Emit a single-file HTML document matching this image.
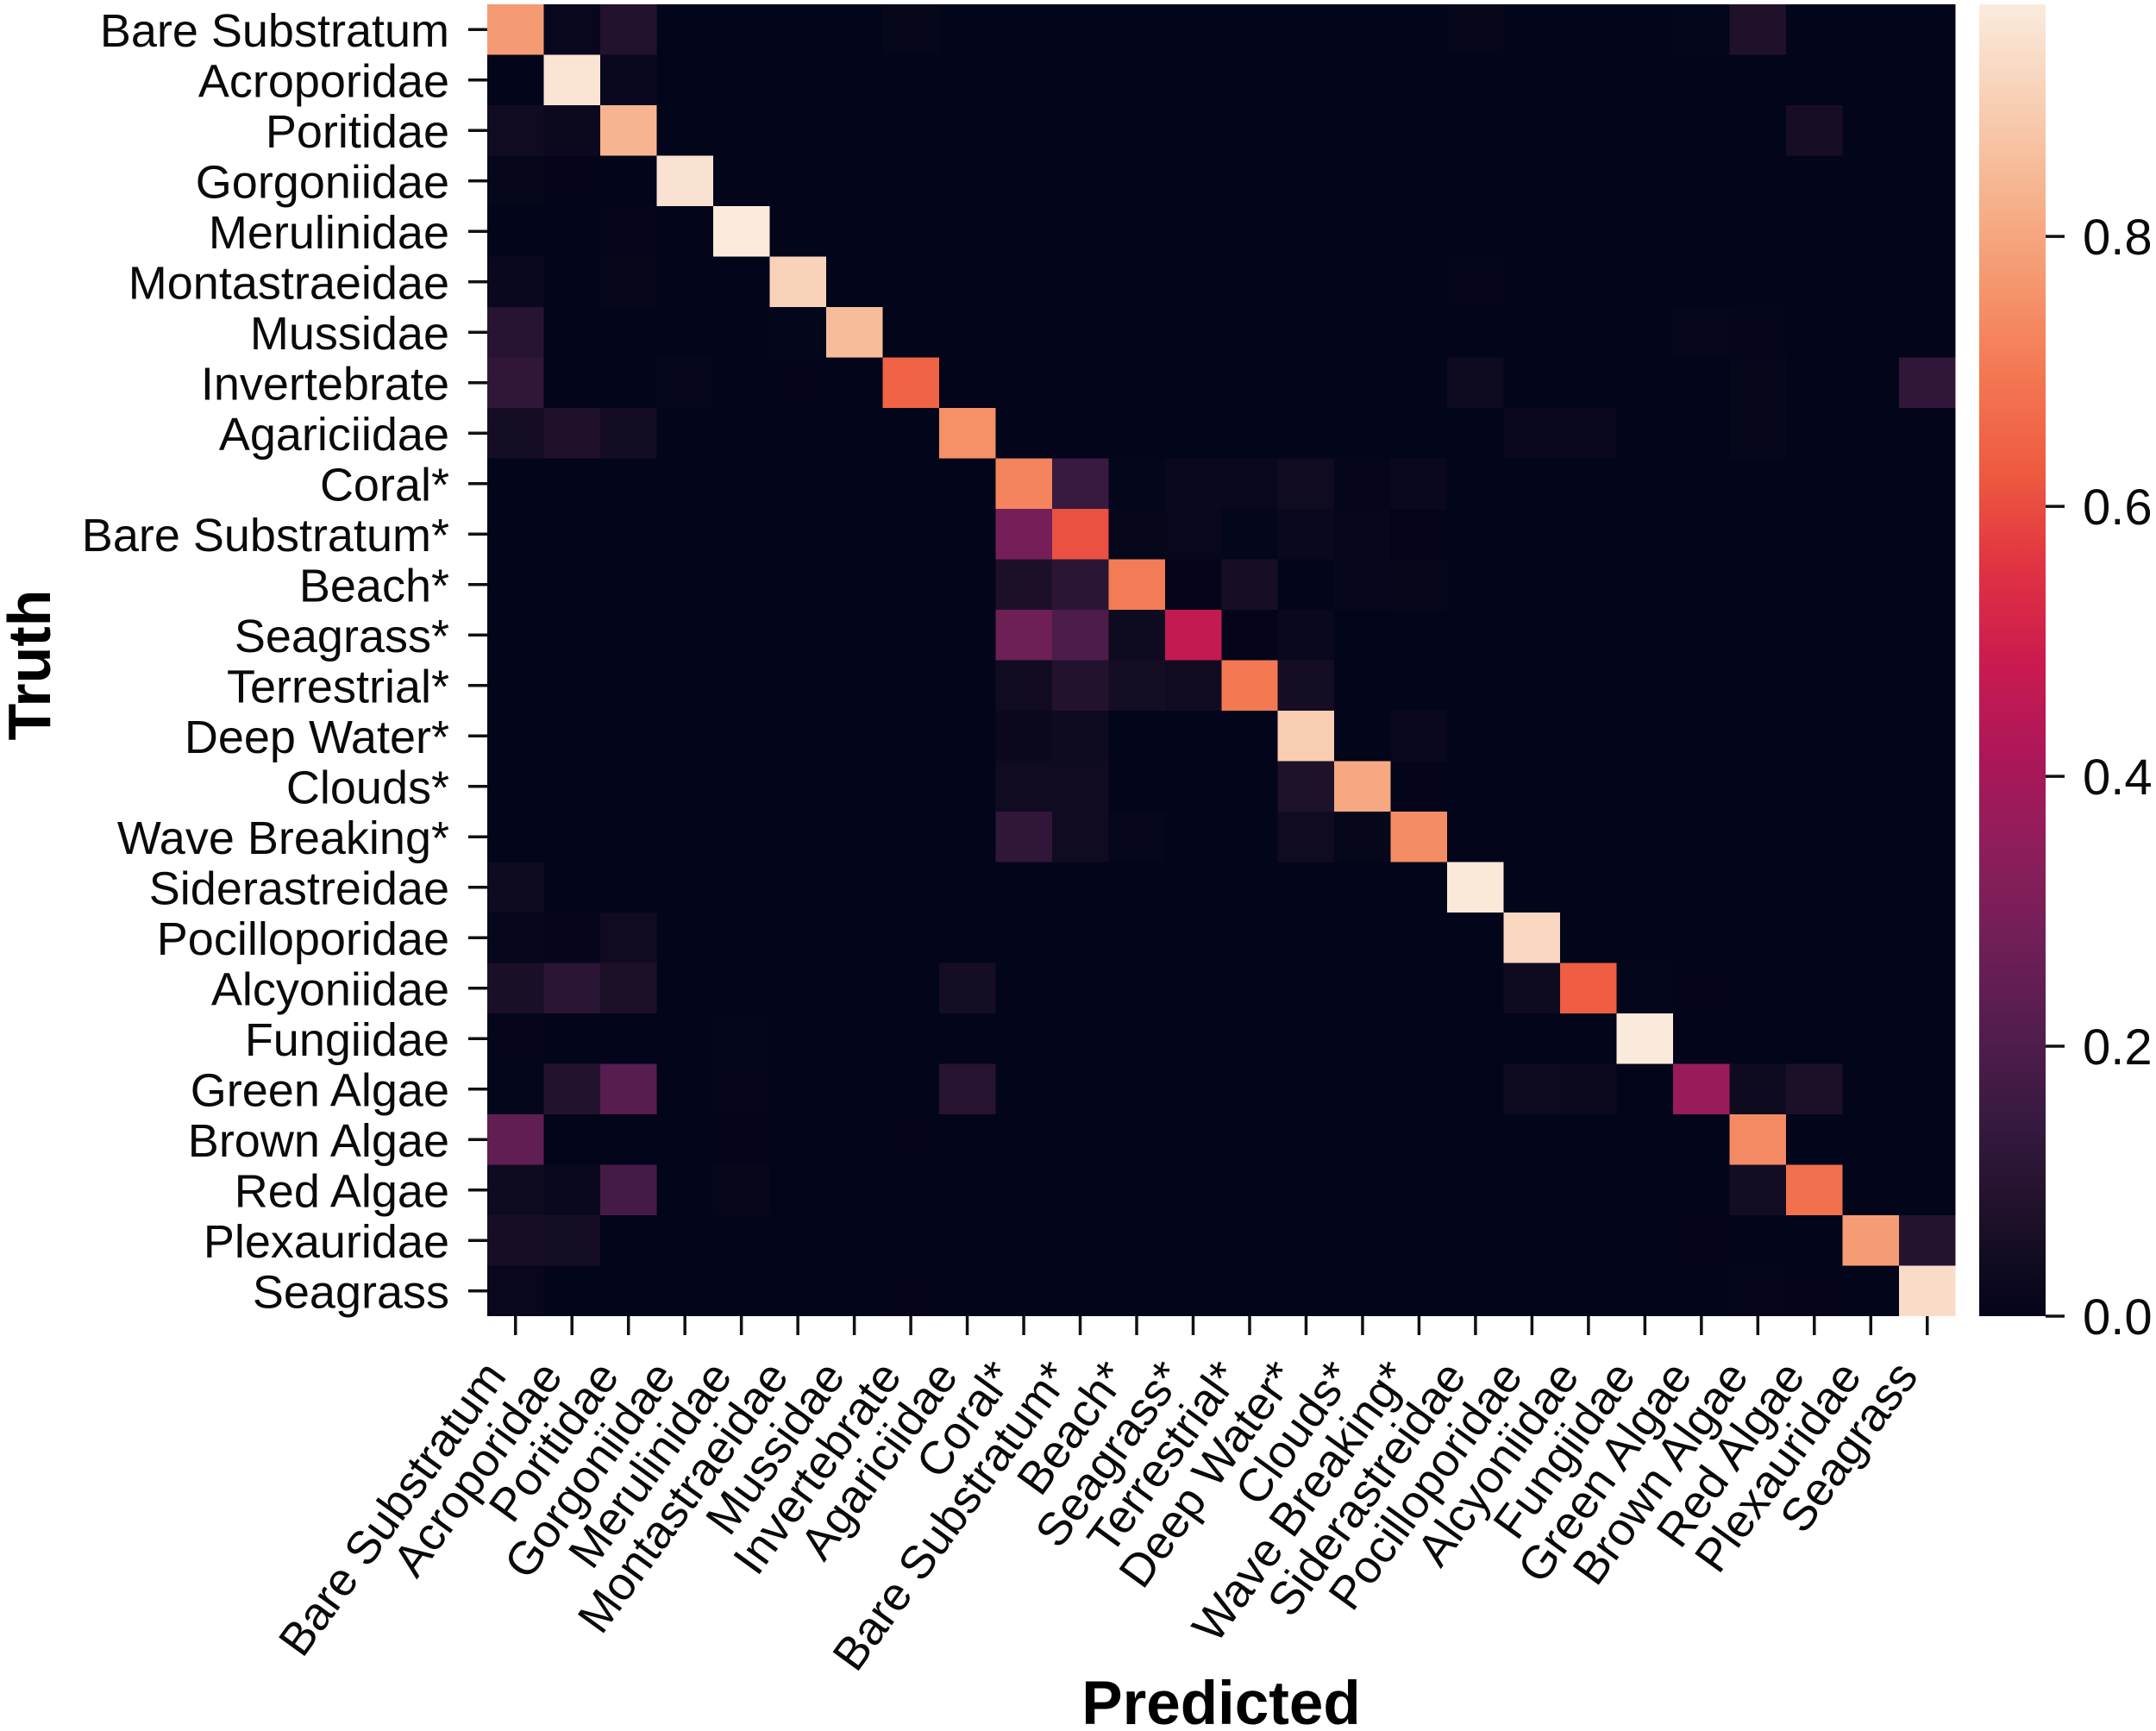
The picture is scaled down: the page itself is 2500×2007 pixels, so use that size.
<!DOCTYPE html>
<html lang="en">
<head>
<meta charset="utf-8">
<title>Confusion matrix heatmap</title>
<style>
html,body{margin:0;padding:0;background:#fff;}
svg{display:block;}
text{fill:#0a0a0a;font-family:"Liberation Sans",Arial,sans-serif;}
.title{font-family:"Liberation Sans",Arial,sans-serif;font-weight:700;fill:#000;}
</style>
</head>
<body>
<svg id="chart" xmlns="http://www.w3.org/2000/svg" width="2500" height="2007" viewBox="0 0 2500 2007">
  <rect x="0" y="0" width="2500" height="2007" fill="#ffffff"/>
  <defs>
    <linearGradient id="cbar-gradient" x1="0" y1="1" x2="0" y2="0"></linearGradient>
  </defs>
  <g id="cells"></g>
  <g id="y-axis"></g>
  <g id="x-axis"></g>
  <g id="colorbar"></g>
  <text class="title" x="1416" y="1999" text-anchor="middle" font-size="71">Predicted</text>
  <text class="title" transform="translate(58,771) rotate(-90)" text-anchor="middle" font-size="70">Truth</text>
</svg>
<script>
const categories = ["Bare Substratum","Acroporidae","Poritidae","Gorgoniidae","Merulinidae","Montastraeidae","Mussidae","Invertebrate","Agariciidae","Coral*","Bare Substratum*","Beach*","Seagrass*","Terrestrial*","Deep Water*","Clouds*","Wave Breaking*","Siderastreidae","Pocilloporidae","Alcyoniidae","Fungiidae","Green Algae","Brown Algae","Red Algae","Plexauridae","Seagrass"];
const matrix = [
[.775,.015,.085,0,0, 0,0,.01,0,0, 0,0,0,0,0, 0,0,.01,0,0, 0,.004,.08,0,0, 0],
[0,.957,.02,0,0, 0,0,0,0,0, 0,0,0,0,0, 0,0,0,0,0, 0,0,0,0,0, 0],
[.04,.025,.835,0,0, 0,0,0,0,0, 0,0,0,0,0, 0,0,0,0,0, 0,0,0,.055,0, 0],
[.012,.002,0,.95,0, 0,0,0,0,0, 0,0,0,0,0, 0,0,0,0,0, 0,0,0,0,0, 0],
[0,0,.006,0,.972, 0,0,0,0,0, 0,0,0,0,0, 0,0,0,0,0, 0,0,0,0,0, 0],
[.02,0,.012,0,0, .91,0,0,0,0, 0,0,0,0,0, 0,0,.006,0,0, 0,0,0,0,0, 0],
[.10,0,0,0,0, .004,.855,0,0,0, 0,0,0,0,0, 0,0,0,0,0, 0,.008,.006,0,0, 0],
[.125,0,0,.008,0, .003,0,.647,0,0, 0,0,0,0,0, 0,0,.03,0,0, 0,0,.012,0,0, .125],
[.05,.08,.045,0,0, 0,0,0,.75,0, 0,0,0,0,0, 0,0,0,.015,.02, 0,0,.01,0,0, 0],
[0,0,0,0,0, 0,0,0,0,.725, .145,.004,.02,.015,.035, .006,.02,0,0,0, 0,0,0,0,0, 0],
[0,0,0,0,0, 0,0,0,0,.29, .607,.01,.015,.004,.02, .008,.002,0,0,0, 0,0,0,0,0, 0],
[0,0,0,0,0, 0,0,0,0,.07, .11,.707,.002,.055,0, .008,.01,0,0,0, 0,0,0,0,0, 0],
[0,0,0,0,0, 0,0,0,0,.27, .195,.03,.467,.002,.018, 0,0,0,0,0, 0,0,0,0,0, 0],
[0,0,0,0,0, 0,0,0,0,.035, .085,.05,.04,.70,.05, 0,0,0,0,0, 0,0,0,0,0, 0],
[0,0,0,0,0, 0,0,0,0,.022, .03,0,0,0,.895, 0,.02,0,0,0, 0,0,0,0,0, 0],
[0,0,0,0,0, 0,0,0,0,.04, .035,0,0,0,.075, .806,.002,0,0,0, 0,0,0,0,0, 0],
[0,0,0,0,0, 0,0,0,0,.125, .035,.008,0,0,.04, .01,.743,0,0,0, 0,0,0,0,0, 0],
[.03,0,0,0,0, 0,0,0,0,0, 0,0,0,0,0, 0,0,.965,0,0, 0,0,0,0,0, 0],
[.008,.006,.04,0,0, 0,0,0,0,0, 0,0,0,0,0, 0,0,0,.92,0, 0,0,0,0,0, 0],
[.06,.11,.07,0,0, 0,0,0,.05,0, 0,0,0,0,0, 0,0,0,.03,.636, .004,.003,0,0,0, 0],
[.006,0,0,0,.004, 0,0,0,0,0, 0,0,0,0,0, 0,0,0,0,0, .97,0,0,0,0, 0],
[.004,.085,.22,0,.006, 0,0,0,.10,0, 0,0,0,0,0, 0,0,0,.03,.025, 0,.373,.03,.07,0, 0],
[.24,0,0,0,.002, 0,0,.003,0,0, 0,0,0,0,0, 0,0,0,0,0, 0,0,.738,0,0, 0],
[.03,.018,.175,0,.012, 0,0,0,0,0, 0,0,0,0,0, 0,0,0,0,0, 0,0,.045,.68,0, 0],
[.055,.05,0,0,0, 0,0,0,0,0, 0,0,0,0,0, 0,0,0,0,0, 0,.003,0,0,.778, .09],
[.015,0,0,0,0, 0,0,.002,0,0, 0,0,0,0,0, 0,0,0,0,0, 0,0,.006,.003,0, .934]
];
const colorbarTicks = [0, 0.2, 0.4, 0.6, 0.8];
const colorbarTickLabels = ["0.0","0.2","0.4","0.6","0.8"];
const valueMax = 0.972;
const rocketColors = ["#03051a","#1c1028","#35193e","#521d4d","#701f57","#8e1d5b","#ad1759","#cb1b4f","#e13342","#ee5a3f","#f37651","#f5966d","#f6b48f","#f8d0b6","#faebdd"];

const SVGNS = "http://www.w3.org/2000/svg";
const plotLeft = 565, plotRight = 2267.5, plotTop = 5, plotBottom = 1526;
const barLeft = 2295, barRight = 2372;
const tickLength = 22, tickWidth = 3.5;

function xBand(){ return (plotRight - plotLeft) / categories.length; }
function yBand(){ return (plotBottom - plotTop) / categories.length; }
function xScale(i){ return plotLeft + i * xBand(); }
function yScale(i){ return plotTop + i * yBand(); }
function barScale(v){ return plotBottom - (v / valueMax) * (plotBottom - plotTop); }
function hexToRgb(h){ return [parseInt(h.slice(1,3),16),parseInt(h.slice(3,5),16),parseInt(h.slice(5,7),16)]; }
function colorScale(v){
  const t = Math.max(0, Math.min(1, v / valueMax)) * (rocketColors.length - 1);
  const k = Math.min(rocketColors.length - 2, Math.floor(t));
  const f = t - k;
  const a = hexToRgb(rocketColors[k]), b = hexToRgb(rocketColors[k + 1]);
  const c = a.map(function(p, n){ return Math.round(p + (b[n] - p) * f); });
  return "rgb(" + c.join(",") + ")";
}
function make(tag, attrs){
  const el = document.createElementNS(SVGNS, tag);
  for (const key in attrs) el.setAttribute(key, attrs[key]);
  return el;
}

const cellsGroup = document.getElementById("cells");
matrix.forEach(function(row, r){
  row.forEach(function(value, c){
    const cell = make("rect", {x:xScale(c), y:yScale(r), width:xBand(), height:yBand(), fill:colorScale(value), "shape-rendering":"crispEdges"});
    
    
    cellsGroup.appendChild(cell);
  });
});

const yAxis = document.getElementById("y-axis");
categories.forEach(function(name, i){
  const cy = yScale(i + 0.5);
  const tick = make("line", {x1:plotLeft - tickLength, x2:plotLeft, y1:cy, y2:cy, stroke:"#111", "stroke-width":tickWidth});
  
  
  yAxis.appendChild(tick);
  const label = make("text", {x:521, y:cy + 19.5, "text-anchor":"end", "font-size":54});
  
  
  label.textContent = name;
  yAxis.appendChild(label);
});

const xAxis = document.getElementById("x-axis");
categories.forEach(function(name, i){
  const cx = xScale(i + 0.5);
  const tick = make("line", {x1:cx, x2:cx, y1:plotBottom, y2:plotBottom + tickLength, stroke:"#111", "stroke-width":tickWidth});
  
  
  xAxis.appendChild(tick);
  const label = make("text", {transform:"translate(" + (cx - 9) + ",1596) rotate(-54)", "text-anchor":"end", "font-size":54});
  
  
  label.textContent = name;
  xAxis.appendChild(label);
});

const gradient = document.getElementById("cbar-gradient");
rocketColors.forEach(function(color, i){
  const stop = make("stop", {offset:i / (rocketColors.length - 1), "stop-color":color});
  gradient.appendChild(stop);
});
const colorbar = document.getElementById("colorbar");
const barRect = make("rect", {x:barLeft, y:plotTop, width:barRight - barLeft, height:plotBottom - plotTop, fill:"url(#cbar-gradient)"});


colorbar.appendChild(barRect);
colorbarTicks.forEach(function(v, i){
  const cy = barScale(v);
  const tick = make("line", {x1:barRight, x2:barRight + tickLength, y1:cy, y2:cy, stroke:"#111", "stroke-width":tickWidth});
  
  
  colorbar.appendChild(tick);
  const label = make("text", {x:2415, y:cy + 21, "font-size":58});
  
  
  label.textContent = colorbarTickLabels[i];
  colorbar.appendChild(label);
});
</script>
</body>
</html>
